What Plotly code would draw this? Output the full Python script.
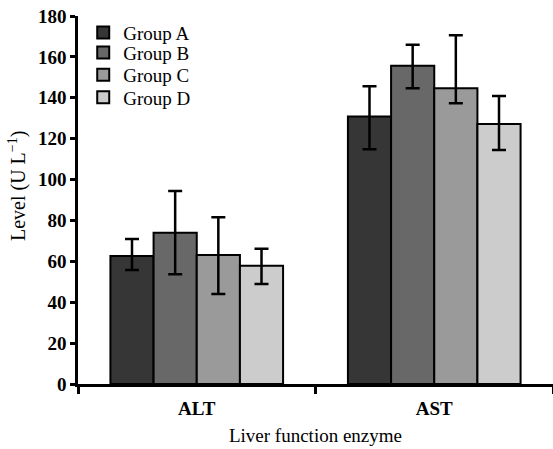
import plotly.graph_objects as go

categories = ["ALT", "AST"]
groups = ["Group A", "Group B", "Group C", "Group D"]
values = {
    "Group A": [62.6, 130.8],
    "Group B": [74.0, 155.7],
    "Group C": [63.1, 144.6],
    "Group D": [57.9, 127.2],
}
err_plus = {
    "Group A": [8.3, 14.8],
    "Group B": [20.4, 10.2],
    "Group C": [18.5, 26.0],
    "Group D": [8.3, 13.7],
}
err_minus = {
    "Group A": [6.8, 16.0],
    "Group B": [20.3, 11.1],
    "Group C": [19.1, 7.3],
    "Group D": [9.0, 12.7],
}
colors = ["#363636", "#686868", "#9a9a9a", "#cccccc"]
y_ticks = [0, 20, 40, 60, 80, 100, 120, 140, 160, 180]
x_title = "Liver function enzyme"
y_title = "Level (U L<sup>−1</sup>)"

FONT = "Liberation Serif"
legend_ids = ["legend", "legend2", "legend3", "legend4"]
legend_y = [0.9546, 0.9003, 0.8397, 0.779]

fig = go.Figure()
for g, c, lid in zip(groups, colors, legend_ids):
    fig.add_trace(go.Bar(
        name=g, x=categories, y=values[g], legend=lid,
        marker=dict(color=c, line=dict(color="black", width=2)),
        error_y=dict(type="data", symmetric=False, array=err_plus[g],
                     arrayminus=err_minus[g], color="black", thickness=2.5, width=7),
    ))

legend_layout = {}
for lid, ly in zip(legend_ids, legend_y):
    legend_layout[lid] = dict(
        x=0.011, y=ly, xanchor="left", yanchor="middle",
        bgcolor="rgba(0,0,0,0)", borderwidth=0,
        font=dict(family=FONT, size=19, color="black"),
    )

fig.update_layout(
    width=553, height=449,
    margin=dict(l=78, r=0, t=16, b=65),
    paper_bgcolor="white", plot_bgcolor="white",
    barmode="group", bargap=0.273, bargroupgap=0,
    font=dict(family=FONT, size=18, color="black"),
    showlegend=True,
    xaxis=dict(
        showline=True, linecolor="black", linewidth=2.5, automargin=False,
        ticks="outside", tickson="boundaries", ticklen=7, tickwidth=2.5, tickcolor="black",
        ticklabelstandoff=5,
        tickfont=dict(family=FONT, size=19, color="black", weight="bold"),
        title=dict(text=x_title, font=dict(family=FONT, size=19, color="black"), standoff=12),
        showgrid=False, zeroline=False,
    ),
    yaxis=dict(
        range=[0, 180], tickvals=y_ticks, automargin=False,
        showline=True, linecolor="black", linewidth=2.5,
        ticks="outside", ticklen=5, tickwidth=2.5, tickcolor="black",
        ticklabeloverflow="allow",
        tickfont=dict(family=FONT, size=19, color="black", weight="bold"),
        showgrid=False, zeroline=False,
    ),
    annotations=[dict(
        text=y_title, xref="paper", yref="paper", x=-0.1284, y=0.538,
        xanchor="center", yanchor="middle", textangle=-90, showarrow=False,
        font=dict(family=FONT, size=20, color="black"),
    )],
    **legend_layout,
)

fig.write_html("out.html", config={"displayModeBar": False},
               post_script="document.body.style.margin='0px';")
